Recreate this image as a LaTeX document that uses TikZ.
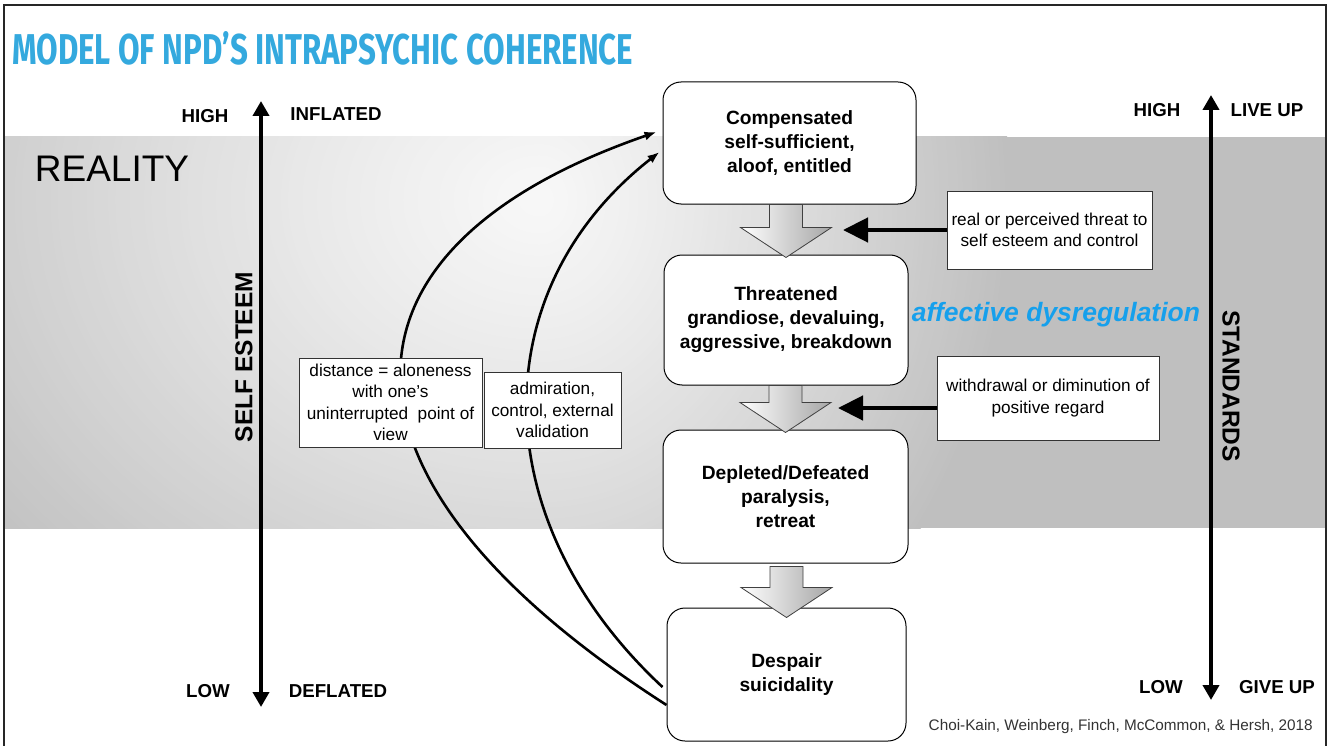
\documentclass[tikz,border=0pt]{standalone}
\usepackage{graphicx}
\usepackage{fontspec}
\setmainfont{Liberation Sans}
\newfontfamily\titlefont{Fira Sans}
\usetikzlibrary{arrows.meta,calc,shadings}

\definecolor{titleblue}{RGB}{52,169,222}
\definecolor{affblue}{RGB}{22,160,236}
\definecolor{bandE}{gray}{0.75}

\newcommand\fs[2]{\fontsize{#1}{#2}\selectfont}

% fat shaded arrow from one stage to the next:
% #1 upper stage, #2 lower stage, #3 gap below #1, #4 overlap into #2
\newcommand\stagearrow[4]{%
  \draw[blockarrow] let \p1=(#1.south), \p2=(#2.north) in
    (\x2-16.5pt,\y1-#3) -- (\x2+16.5pt,\y1-#3) -- (\x2+16.5pt,\y2-#4+30pt)
    -- (\x2+45.5pt,\y2-#4+30pt) -- (\x2,\y2-#4) -- (\x2-45.5pt,\y2-#4+30pt)
    -- (\x2-16.5pt,\y2-#4+30pt) -- cycle;}

% one half of the glow: #1 clip x-range, #2 horizontal reach
\newcommand\glowhalf[2]{%
  \begin{scope}
    \clip #1;
    \foreach \i in {100,99,...,1}{
      \pgfmathsetmacro\u{\i/100}
      \pgfmathsetmacro\g{0.97-0.22*(\u)^1.2}
      \definecolor{ring}{gray}{\g}
      \fill[ring] (540,200) ellipse[x radius=#2*\u pt, y radius=560*\u pt];
    }
  \end{scope}}

\tikzset{
  stage/.style={draw=black, line width=1pt, rounded corners=18pt, fill=white,
    align=center, font=\fs{19.2}{24}\bfseries, inner sep=0pt},
  note/.style={draw=black!80, line width=1pt, fill=white, align=center,
    font=\fs{17.2}{21.5}, inner sep=0pt},
  axislabel/.style={font=\fs{18.7}{22}\bfseries, inner sep=0pt},
  axisname/.style={font=\fs{24.5}{28}\bfseries, inner sep=0pt},
  axisline/.style={line width=4.5pt,
    {Triangle[length=15pt,width=16pt]}-{Triangle[length=15pt,width=16pt]}},
  loopback/.style={line width=2.6pt, -{Latex[length=12pt,width=9pt]}},
  push/.style={line width=4.5pt, -{Triangle[length=25pt,width=24pt]}},
  blockarrow/.style={draw=black!75, line width=0.8pt, left color=white,
    right color=black!35},
}

\begin{document}
\begin{tikzpicture}[x=1pt,y=-1pt]
\fill[white] (0,0) rectangle (1329,746);
\useasboundingbox (0,0) rectangle (1329,746);

% reality band: flat grey strip with a light spot, wider towards the left
\fill[bandE] (5,137) rectangle (1325,528);
\glowhalf{(5,137) rectangle (541,528)}{720}
\glowhalf{(540,137) rectangle (1325,528)}{470}

% slide frame
\draw[line width=2pt, black!85] (4,746) -- (4,5) -- (1326,5) -- (1326,746);

% title
\node[inner sep=0pt, anchor=west, text=titleblue] (title) at (12,48.5)
  {\resizebox{621pt}{33pt}{\titlefont\bfseries MODEL OF NPD’S INTRAPSYCHIC COHERENCE}};

% self esteem scale
\coordinate (seHi) at (261,101);
\coordinate (seLo) at (261,707);
\draw[axisline] (seLo) -- (seHi);
\node[axislabel] (hiL) at (205,116) {HIGH};
\node[axislabel] (infl) at (336,114) {INFLATED};
\node[axislabel] (loL) at (208,691) {LOW};
\node[axislabel] (defl) at (338,691) {DEFLATED};
\node[axisname, rotate=90] (se) at (244,357) {SELF ESTEEM};

% standards scale
\coordinate (stHi) at (1211,95);
\coordinate (stLo) at (1211,700);
\draw[axisline] (stLo) -- (stHi);
\node[axislabel] (hiR) at (1157,110) {HIGH};
\node[axislabel] (live) at (1267,110) {LIVE UP};
\node[axislabel] (loR) at (1161,687) {LOW};
\node[axislabel] (give) at (1277,687) {GIVE UP};
\node[axisname, rotate=-90] (std) at (1231,386) {STANDARDS};

\node[font=\fs{37}{40}, inner sep=0pt] (real) at (112,169) {REALITY};

% stages
\node[stage, minimum width=253pt, minimum height=122pt] (comp) at (789.5,143)
  {Compensated\\self-sufficient,\\aloof, entitled};
\node[stage, minimum width=244pt, minimum height=130pt] (threat) at (786,320)
  {Threatened\\grandiose, devaluing,\\aggressive, breakdown};
\node[stage, minimum width=245pt, minimum height=133pt] (depl) at (785.5,496.5)
  {Depleted/Defeated\\paralysis,\\retreat};
\node[stage, minimum width=239pt, minimum height=133pt] (desp) at (786.5,674.5)
  {Despair\\suicidality};

% return paths from despair to the compensated state
\draw[loopback] ([yshift=-30.5pt]desp.west) .. controls (315,480) and (315,250)
  .. ([xshift=-6pt,yshift=11pt]comp.west);
\draw[loopback] ([xshift=-4pt,yshift=-12.5pt]desp.west) .. controls (483,520) and (483,290)
  .. ([xshift=-3pt,yshift=-9pt]comp.west);

\node[note, minimum width=183pt, minimum height=89pt] (lb1) at (390.5,402.5)
  {distance = aloneness\\with one's\\uninterrupted\ \ point of\\view};
\node[note, minimum width=137pt, minimum height=76pt] (lb2) at (552.5,410)
  {admiration,\\control, external\\validation};

% transitions between stages
\stagearrow{comp}{threat}{0pt}{3pt}
\stagearrow{threat}{depl}{0pt}{3pt}
\stagearrow{depl}{desp}{3pt}{10pt}

% triggers
\node[note, minimum width=205pt, minimum height=78pt] (sb1) at (1049.5,230)
  {real or perceived threat to\\self esteem and control};
\node[note, minimum width=222pt, minimum height=84pt] (sb2) at (1048,398)
  {withdrawal or diminution of\\positive regard};
\coordinate (hit1) at (843,230);
\coordinate (hit2) at (838,408);
\draw[push] (sb1.west) -- (hit1);
\draw[push] ([yshift=-10pt]sb2.west) -- (hit2);

\node[font=\fs{26.5}{30}\bfseries\itshape, text=affblue, inner sep=0pt, anchor=base]
  (aff) at (1056,321) {affective dysregulation};

\node[font=\fs{15.3}{18}, text=black!80, inner sep=0pt, anchor=east] (cite) at (1313,727)
  {Choi-Kain, Weinberg, Finch, McCommon, \& Hersh, 2018};
\end{tikzpicture}
\end{document}
